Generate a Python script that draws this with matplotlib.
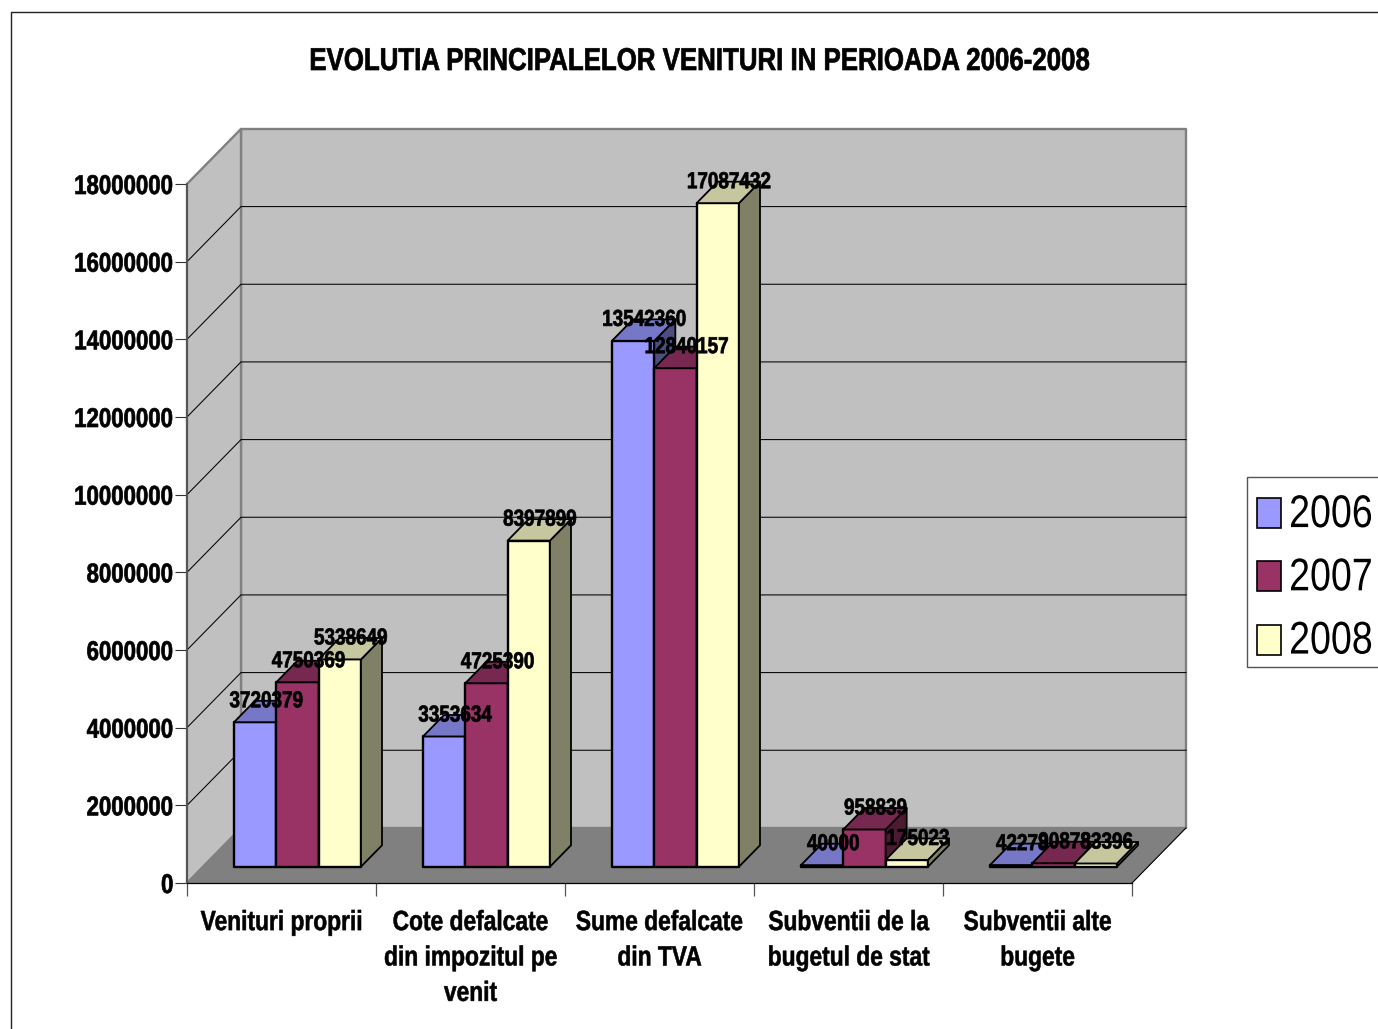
import matplotlib
matplotlib.use("Agg")
import matplotlib.pyplot as plt
from matplotlib.patches import Polygon, Patch, Rectangle
from matplotlib.lines import Line2D
from matplotlib.patheffects import AbstractPathEffect
from matplotlib.transforms import Affine2D
from matplotlib.legend_handler import HandlerPatch

plt.rcParams['font.family'] = ['Liberation Sans', 'DejaVu Sans']

title = 'EVOLUTIA PRINCIPALELOR VENITURI IN PERIOADA 2006-2008'
categories = ['Venituri proprii', 'Cote defalcate\ndin impozitul pe\nvenit', 'Sume defalcate\ndin TVA',
              'Subventii de la\nbugetul de stat', 'Subventii alte\nbugete']
years = ['2006', '2007', '2008']
values_2006 = [3720379, 3353634, 13542360, 40000, 42278]
values_2007 = [4750369, 4725390, 12840157, 958839, 90878]
values_2008 = [5338649, 8397899, 17087432, 175023, 83396]
y_ticks = list(range(0, 18000001, 2000000))
colors = ['#9999FF', '#993366', '#FFFFCC']

W, H = 1378, 1029


# no narrow font installed, so squeeze each text line sideways when it is drawn
class Squeeze(AbstractPathEffect):
    def __init__(self, anchor='center', k=0.82, stroke=0.0):
        super().__init__()
        self.anchor = anchor
        self.k = k
        self.stroke = stroke

    def draw_path(self, renderer, gc, tpath, affine, rgbFace=None):
        box = tpath.get_extents(affine)
        x0 = {'left': box.x0, 'center': (box.x0 + box.x1) / 2, 'right': box.x1}[self.anchor]
        t = affine + Affine2D().translate(-x0, 0).scale(self.k, 1).translate(x0, 0)
        gc0 = renderer.new_gc()
        gc0.copy_properties(gc)
        gc0.set_linewidth(self.stroke)
        gc0.set_foreground(rgbFace)
        renderer.draw_path(gc0, tpath, t, rgbFace)
        gc0.restore()


fig = plt.figure(figsize=(W / 100, H / 100), dpi=100, facecolor='white')
ax = fig.add_axes([187 / W, (H - 883) / H, (1132 - 187) / W, (883 - 184) / H])
ax.set_xlim(0, 5)
ax.set_ylim(0, 18000000)
ax.patch.set_visible(False)

# pixel size of one unit, used for the fake 3d depth
px_x = (1132 - 187) / 5
px_y = 18000000 / (883 - 184)


def depth(x, v, d):
    return (x + d / px_x, v + d * 1.02 * px_y)


def shade(c, f):
    r, g, b = matplotlib.colors.to_rgb(c)
    return (r * f, g * f, b * f)


def poly(points, face, edge, lw, z):
    ax.add_patch(Polygon(points, closed=True, facecolor=face, edgecolor=edge, linewidth=lw,
                         joinstyle='round', clip_on=False, zorder=z))


# walls and floor
wall = 54
top = 18000000
poly([depth(0, 0, wall), depth(5, 0, wall), depth(5, top, wall), depth(0, top, wall)], '#C0C0C0', '#808080', 1.7, 1)
poly([(0, 0), depth(0, 0, wall), depth(0, top, wall), (0, top)], '#C0C0C0', '#808080', 1.7, 1)
poly([(0, 0), (5, 0), depth(5, 0, wall), depth(0, 0, wall)], '#808080', '#808080', 0.7, 2)

for v in y_ticks[1:-1]:
    pts = [(0, v), depth(0, v, wall), depth(5, v, wall)]
    ax.plot([p[0] for p in pts], [p[1] for p in pts], color='#000000', lw=0.75, clip_on=False, zorder=3)
ax.plot([5, depth(5, 0, wall)[0]], [0, depth(5, 0, wall)[1]], color='#000000', lw=0.75, clip_on=False, zorder=3)

# bars, left to right so the later ones cover the earlier ones
bar_w = (127 / 3) / px_x
gap = (1 - 3 * bar_w) / 2
front_d = 16
back_d = 37
series = [values_2006, values_2007, values_2008]
z = 10
for i in range(len(categories)):
    for s in range(3):
        v = series[s][i]
        x0 = i + gap + s * bar_w
        x1 = x0 + bar_w
        c = colors[s]
        poly([depth(x0, 0, front_d), depth(x1, 0, front_d), depth(x1, v, front_d), depth(x0, v, front_d)], c, 'black', 1.7, z)
        poly([depth(x1, 0, front_d), depth(x1, 0, back_d), depth(x1, v, back_d), depth(x1, v, front_d)], shade(c, 0.5), 'black', 1.3, z + 1)
        poly([depth(x0, v, front_d), depth(x1, v, front_d), depth(x1, v, back_d), depth(x0, v, back_d)], shade(c, 0.78), 'black', 1.3, z + 2)
        z += 3

for i in range(len(categories)):
    for s in range(3):
        v = series[s][i]
        xc = i + gap + (s + 0.5) * bar_w
        lx = depth(xc, v, back_d - 10)[0]
        ly = depth(xc, v, back_d)[1]
        ax.text(lx, ly, str(v), ha='center', va='center', fontsize=16.6, fontweight='bold', color='black',
                zorder=500, clip_on=False, path_effects=[Squeeze('center', stroke=0.5)])

# axes
for name in ['top', 'right']:
    ax.spines[name].set_visible(False)
ax.spines['left'].set_color('#555555')
ax.spines['left'].set_linewidth(1.4)
ax.spines['bottom'].set_color('#000000')
ax.spines['bottom'].set_linewidth(0.9)
for sp in ax.spines.values():
    sp.set_zorder(5)

ax.set_yticks(y_ticks)
ax.set_yticklabels([str(t) for t in y_ticks], fontsize=19.5, fontweight='bold')
ax.tick_params(axis='y', length=8.6, width=0.8, color='#333333', pad=1)
for lab in ax.get_yticklabels():
    lab.set_path_effects([Squeeze('right', stroke=0.5)])
ax.set_xticks(range(6))
ax.set_xticklabels([])
ax.tick_params(axis='x', which='major', length=9, width=0.9, color='#555555')
ax.set_xticks([i + 0.5 for i in range(5)], minor=True)
ax.set_xticklabels(categories, minor=True, fontsize=20, fontweight='bold', linespacing=1.47)
ax.tick_params(axis='x', which='minor', length=0, pad=19.5)
for lab in ax.get_xticklabels(minor=True):
    lab.set_path_effects([Squeeze('center', stroke=0.4)])

fig.text(699 / W, 1 - 62 / H, title, ha='center', va='center', fontsize=22.7, fontweight='bold',
         path_effects=[Squeeze('center', stroke=0.5)])

# outer chart border, runs off the right and bottom edge
fig.add_artist(Line2D([11 / W, 11 / W, 1], [0, 1 - 12 / H, 1 - 12 / H], color='#222222', lw=1.0))

# legend box, cut off by the right edge like the original
fig.add_artist(Rectangle((1247 / W, 1 - 667 / H), 200 / W, 190 / H, transform=fig.transFigure,
                         facecolor='white', edgecolor='#555555', linewidth=1.0))


def legend_square(legend, orig_handle, xdescent, ydescent, width, height, fontsize):
    return Rectangle((-xdescent, -ydescent - 1.5), width, height)


handles = [Patch(facecolor=colors[s], edgecolor='black', linewidth=1.2, label=years[s]) for s in range(3)]
leg = fig.legend(handles=handles, loc='upper left', bbox_to_anchor=(1247 / W, 1 - 483 / H), fontsize=33,
                 frameon=False, borderpad=0.22, borderaxespad=0, labelspacing=0.42, handlelength=0.52,
                 handleheight=0.63, handletextpad=0.17,
                 handler_map={Patch: HandlerPatch(patch_func=legend_square)})
for t in leg.get_texts():
    t.set_path_effects([Squeeze('left')])

fig.savefig('out.png', dpi=100)
